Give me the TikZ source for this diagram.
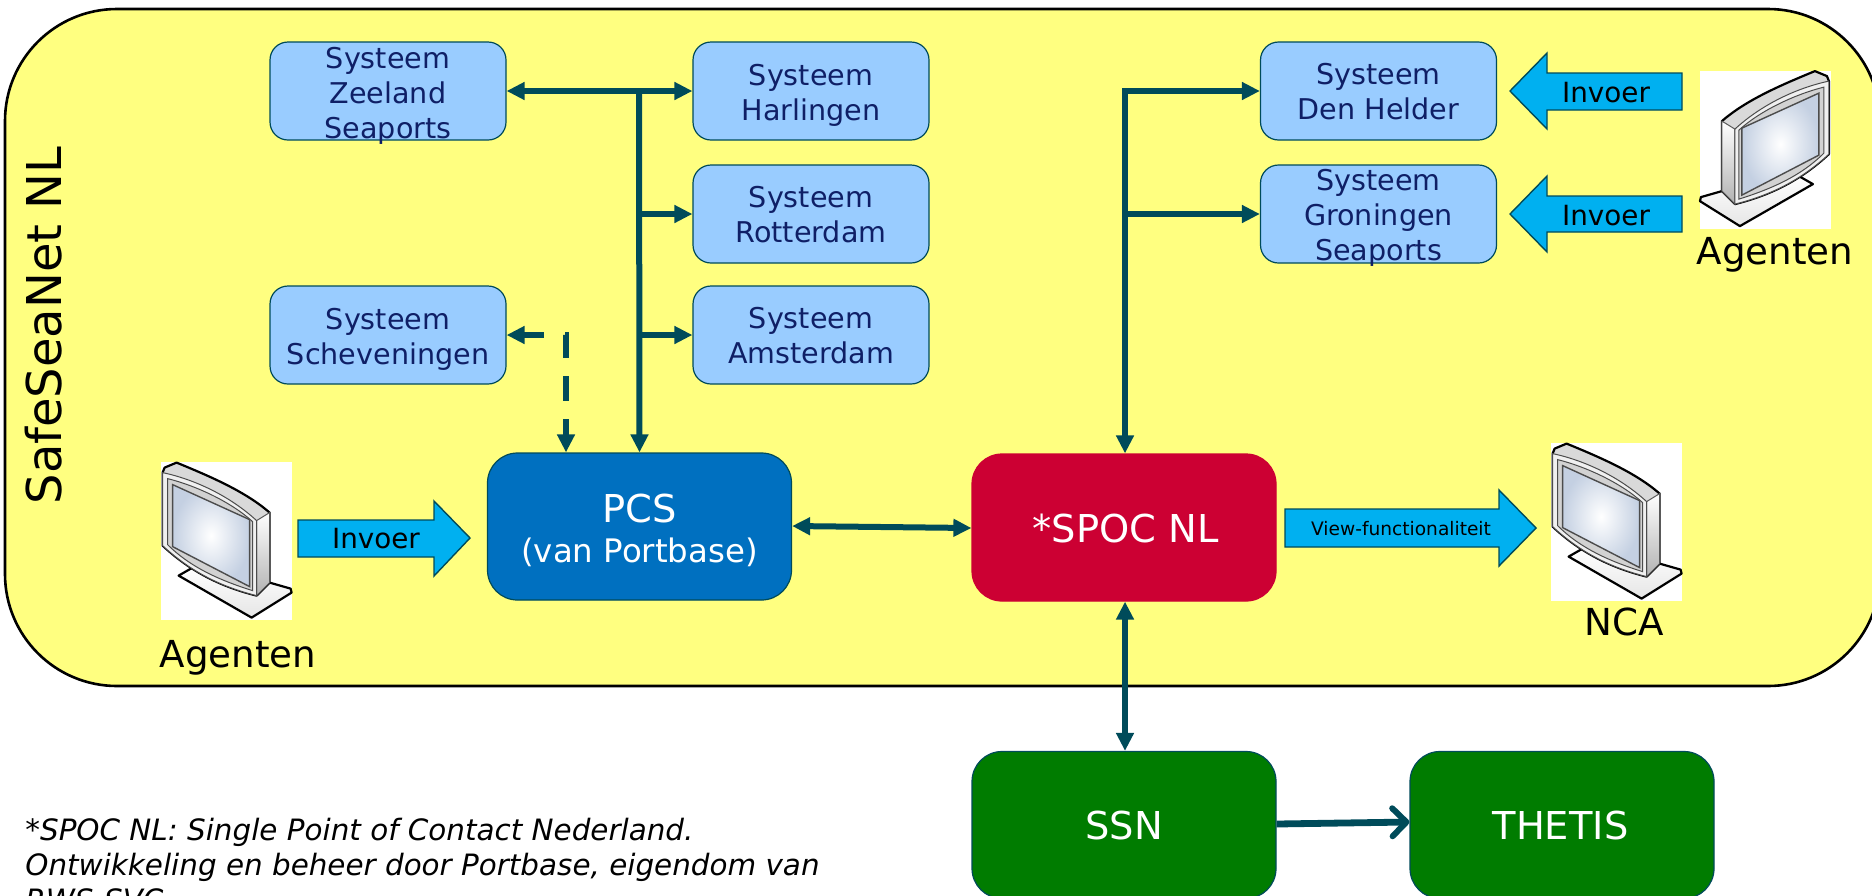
\documentclass[tikz,border=0pt]{standalone}
\usepackage{fontspec}
\setmainfont{DejaVu Sans}
\usetikzlibrary{arrows.meta,calc}
\definecolor{conn}{HTML}{004B5A}
\definecolor{yel}{HTML}{FFFF80}
\definecolor{sysblue}{HTML}{99CCFF}
\definecolor{navy}{HTML}{0F1F66}
\definecolor{pcsblue}{HTML}{0070C0}
\definecolor{spocred}{HTML}{CC0033}
\definecolor{grn}{HTML}{007C00}
\definecolor{cyanb}{HTML}{00B0F0}
\definecolor{screenedge}{HTML}{C4D0E2}
\tikzset{
  x=0.5pt,y=-0.5pt,
  sysbox/.style={draw=conn,line width=0.6pt,fill=sysblue,rounded corners=9pt,minimum width=118pt,minimum height=49pt,inner sep=0pt},
  systext/.style={text=navy,align=center,inner sep=0pt,font=\fontsize{14.3}{17.5}\selectfont},
  bigbox/.style={draw=conn,line width=0.6pt,rounded corners=15pt,minimum width=152pt,minimum height=73.5pt,inner sep=0pt},
  bigtext/.style={text=white,align=center,inner sep=0pt,font=\fontsize{19.2}{22}\selectfont},
  conline/.style={draw=conn,line width=3pt,-{Triangle[length=9pt,width=8.5pt]}},
  conboth/.style={conline,{Triangle[length=9pt,width=8.5pt]}-{Triangle[length=9pt,width=8.5pt]}},
  blockarrow/.style={draw=conn,line width=0.7pt,fill=cyanb,line join=miter},
  blocktext/.style={text=black,inner sep=0pt,anchor=base,font=\fontsize{13.9}{16}\selectfont},
  agent/.style={text=black,inner sep=0pt,anchor=base,font=\fontsize{18.6}{22}\selectfont},
  foot/.style={text=black,inner sep=0pt,anchor=base west,font=\fontsize{14.7}{17.5}\selectfont\itshape},
  whitepanel/.style={fill=white,draw=none,minimum width=65.5pt,minimum height=79pt,inner sep=0pt},
  monline/.style={draw=black,line width=1.1pt,line join=round},
  monitor/.pic={
    \path[monline,top color=white,bottom color=gray!20] (32,106) -- (18,114) -- (91,156) -- (131,131) -- (130,127) -- (109,121) -- cycle;
    \path[monline,fill=gray!30] (2,11) -- (4,6) -- (16,1) .. controls (50,15) and (85,30) .. (109,51) -- (109,121) -- (96,134) .. controls (60,125) and (30,110) .. (2,84) -- cycle;
    \path[draw=gray!70!black,line width=0.5pt,top color=white,bottom color=gray!60] (96,59) -- (109,51) -- (109,121) -- (96,134) -- cycle;
    \path[draw=gray!60!black,line width=0.5pt,fill=gray!12] (2,11) .. controls (35,18) and (70,35) .. (96,59) -- (96,134) .. controls (60,125) and (30,110) .. (2,84) -- cycle;
    \path[draw=gray!60!black,line width=0.5pt,fill=gray!35] (7,17) .. controls (35,24) and (70,40) .. (92,60) -- (92,129) .. controls (60,119) and (30,106) .. (7,83) -- cycle;
    \path[draw=black!70,line width=0.7pt,inner color=white,outer color=screenedge] (12,23) -- (89,58) -- (89,125) -- (12,85) -- cycle;
  }
}
\begin{document}
\begin{tikzpicture}
\useasboundingbox (0,0) rectangle (1872,895);
\clip (0,0) rectangle (1872,895);
% background frame
\draw[black,line width=1.3pt,fill=yel,rounded corners=56pt] (5,9) rectangle (1880,686);
\node[rotate=90,inner sep=0pt,font=\fontsize{24}{28}\selectfont] (ssnnl) at (44,325.5) {SafeSeaNet NL};

% monitors
\node[whitepanel] (monA) at (226.5,541) {};
\node[whitepanel] (monB) at (1765,149.5) {};
\node[whitepanel] (monC) at (1616.5,522) {};
\pic at (monA.north west) {monitor};
\pic[xscale=-1] at (monB.north east) {monitor};
\pic at (monC.north west) {monitor};

% system boxes
\node[sysbox] (zee) at (388,91) {};
\node[sysbox] (har) at (811,91) {};
\node[sysbox] (rot) at (811,214) {};
\node[sysbox] (ams) at (811,335) {};
\node[sysbox] (sch) at (388,335) {};
\node[sysbox] (den) at (1378.5,91) {};
\node[sysbox] (gro) at (1378.5,214) {};
\node[systext] (zeeT) at (388,95.5) {Systeem\\Zeeland\\Seaports};
\node[systext] (harT) at (811,95.5) {Systeem\\Harlingen};
\node[systext] (rotT) at (811,215) {Systeem\\Rotterdam};
\node[systext] (amsT) at (811,336) {Systeem\\Amsterdam};
\node[systext] (schT) at (388,339.5) {Systeem\\Scheveningen};
\node[systext] (denT) at (1378.5,92) {Systeem\\Den Helder};
\node[systext] (groT) at (1378.5,217.5) {Systeem\\Groningen\\Seaports};

% main boxes
\node[bigbox,fill=pcsblue] (pcs) at (639.5,526.5) {};
\node[bigbox,fill=spocred,draw=spocred] (spoc) at (1124,527.5) {};
\node[bigbox,fill=grn] (ssn) at (1124,825) {};
\node[bigbox,fill=grn] (thetis) at (1562,825) {};
\node[bigtext,anchor=base] (pcsT) at (639.5,522) {PCS};
\node[bigtext,anchor=base,font=\fontsize{16.2}{19}\selectfont] (pcsT2) at (639.5,562) {(van Portbase)};
\node[bigtext,anchor=base] (spocT) at (1125.5,542) {*SPOC NL};
\node[bigtext,anchor=base] (ssnT) at (1124,839) {SSN};
\node[bigtext,anchor=base] (thetisT) at (1560.5,839) {THETIS};

% connectors
\coordinate (busA) at (639,91);
\coordinate (busB) at (1125,91);
\coordinate (dashC) at (566,335);
\draw[conboth] (zee.east) -- (har.west);
\draw[conline] (busA) -- (pcs.north);
\draw[conline] (busA |- rot.west) -- (rot.west);
\draw[conline] (busA |- ams.west) -- (ams.west);
\draw[conline,dash pattern=on 10.5pt off 10.5pt on 12pt off 9pt on 12.5pt off 9pt on 30pt,{Triangle[length=9pt,width=8.5pt]}-{Triangle[length=9pt,width=8.5pt]},shorten >=0pt] (sch.east) -- (dashC) -- (dashC |- pcs.north);
\draw[conline,line cap=rect] (busB) -- (den.west);
\draw[conline] (busB |- gro.west) -- (gro.west);
\draw[conline] (busB) -- (spoc.north -| busB);
\draw[conboth] ($(pcs.east)+(0,-0.5)$) -- ($(spoc.west)+(0,0.5)$);
\draw[conboth] (spoc.south -| busB) -- (ssn.north -| busB);
\draw[draw=conn,line width=3.4pt,-{Straight Barb[length=7pt,width=14pt,line width=3pt,round]}] ($(ssn.east)+(0,-1)$) -- ($(thetis.west)+(0,-3)$);

% block arrows
\draw[blockarrow] (298,520) -- (434,520) -- (434,501) -- (470,538) -- (434,576) -- (434,557) -- (298,557) -- cycle;
\draw[blockarrow] (1682,73) -- (1547,73) -- (1547,53) -- (1510,91) -- (1547,129) -- (1547,110) -- (1682,110) -- cycle;
\draw[blockarrow] (1682,196) -- (1547,196) -- (1547,176) -- (1510,214) -- (1547,252) -- (1547,232) -- (1682,232) -- cycle;
\draw[blockarrow] (1285,509) -- (1499,509) -- (1499,490) -- (1536,528) -- (1499,566) -- (1499,547) -- (1285,547) -- cycle;
\node[blocktext] (inA) at (376,548) {Invoer};
\node[blocktext] (inB) at (1606,102) {Invoer};
\node[blocktext] (inC) at (1606,225) {Invoer};
\node[blocktext,font=\fontsize{9.3}{11}\selectfont] (view) at (1401,535) {View-functionaliteit};

% labels
\node[agent] (agA) at (238,667) {Agenten};
\node[agent] (agB) at (1775,264) {Agenten};
\node[agent] (nca) at (1624,635) {NCA};
\node[foot] (f1) at (25,840) {*SPOC NL: Single Point of Contact Nederland.};
\node[foot] (f2) at (25,875) {Ontwikkeling en beheer door Portbase, eigendom van};
\node[foot] (f3) at (25,910) {RWS-SVC};
\end{tikzpicture}
\end{document}
